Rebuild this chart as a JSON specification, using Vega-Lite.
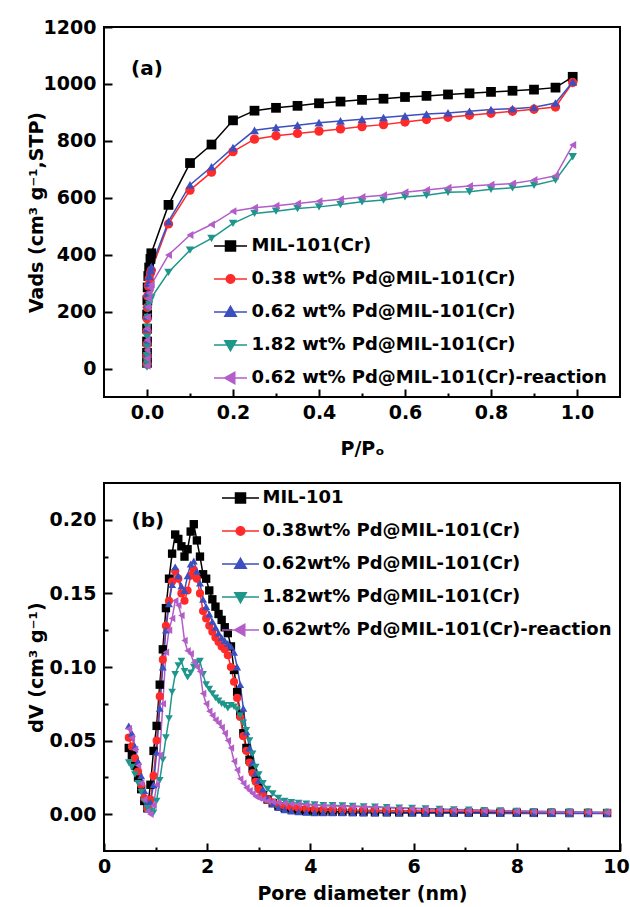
{
  "$schema": "https://vega.github.io/schema/vega-lite/v6.json",
  "padding": {"left": 26, "top": 17, "right": 0, "bottom": 0},
  "background": "white",
  "config": {
    "font": "DejaVu Sans",
    "view": {"stroke": "black", "strokeWidth": 2},
    "axis": {"domain": false, "grid": false, "labelFont": "DejaVu Sans", "labelFontWeight": "bold", "labelFontSize": 19, "labelColor": "black", "titleFont": "DejaVu Sans", "titleFontWeight": "bold", "titleFontSize": 19, "titleColor": "black", "tickColor": "black", "tickWidth": 2, "labelFlush": false, "labelOverlap": false},
    "legend": {"orient": "none", "title": null, "padding": 0, "rowPadding": 15, "symbolSize": 100, "symbolStrokeWidth": 1.5, "labelFont": "DejaVu Sans", "labelFontWeight": "bold", "labelFontSize": 18, "labelColor": "black", "labelLimit": 0, "symbolOpacity": 1}
  },
  "datasets": {
    "iso": [
      {"s":"MIL","p":0.00002,"v":20},{"s":"MIL","p":0.00005,"v":55},{"s":"MIL","p":0.0001,"v":95},{"s":"MIL","p":0.0002,"v":140},{"s":"MIL","p":0.0004,"v":190},{"s":"MIL","p":0.0008,"v":240},{"s":"MIL","p":0.0015,"v":285},{"s":"MIL","p":0.003,"v":325},{"s":"MIL","p":0.005,"v":355},{"s":"MIL","p":0.008,"v":385},{"s":"MIL","p":0.01,"v":405},
      {"s":"MIL","p":0.05,"v":575},{"s":"MIL","p":0.1,"v":722},{"s":"MIL","p":0.15,"v":787},{"s":"MIL","p":0.2,"v":872},{"s":"MIL","p":0.25,"v":906},{"s":"MIL","p":0.3,"v":916},{"s":"MIL","p":0.35,"v":923},{"s":"MIL","p":0.4,"v":932},{"s":"MIL","p":0.45,"v":938},{"s":"MIL","p":0.5,"v":944},{"s":"MIL","p":0.55,"v":948},{"s":"MIL","p":0.6,"v":954},{"s":"MIL","p":0.65,"v":958},{"s":"MIL","p":0.7,"v":963},{"s":"MIL","p":0.75,"v":967},{"s":"MIL","p":0.8,"v":972},{"s":"MIL","p":0.85,"v":976},{"s":"MIL","p":0.9,"v":980},{"s":"MIL","p":0.95,"v":987},{"s":"MIL","p":0.99,"v":1025},
      {"s":"P38","p":0.00002,"v":15},{"s":"P38","p":0.00005,"v":45},{"s":"P38","p":0.0001,"v":85},{"s":"P38","p":0.0002,"v":130},{"s":"P38","p":0.0004,"v":175},{"s":"P38","p":0.0008,"v":215},{"s":"P38","p":0.0015,"v":255},{"s":"P38","p":0.003,"v":290},{"s":"P38","p":0.005,"v":315},{"s":"P38","p":0.008,"v":335},{"s":"P38","p":0.01,"v":345},
      {"s":"P38","p":0.05,"v":508},{"s":"P38","p":0.1,"v":627},{"s":"P38","p":0.15,"v":690},{"s":"P38","p":0.2,"v":762},{"s":"P38","p":0.25,"v":806},{"s":"P38","p":0.3,"v":818},{"s":"P38","p":0.35,"v":826},{"s":"P38","p":0.4,"v":834},{"s":"P38","p":0.45,"v":842},{"s":"P38","p":0.5,"v":850},{"s":"P38","p":0.55,"v":857},{"s":"P38","p":0.6,"v":866},{"s":"P38","p":0.65,"v":875},{"s":"P38","p":0.7,"v":883},{"s":"P38","p":0.75,"v":890},{"s":"P38","p":0.8,"v":897},{"s":"P38","p":0.85,"v":904},{"s":"P38","p":0.9,"v":911},{"s":"P38","p":0.95,"v":919},{"s":"P38","p":0.99,"v":1005},
      {"s":"P62","p":0.00002,"v":20},{"s":"P62","p":0.00005,"v":55},{"s":"P62","p":0.0001,"v":95},{"s":"P62","p":0.0002,"v":140},{"s":"P62","p":0.0004,"v":185},{"s":"P62","p":0.0008,"v":225},{"s":"P62","p":0.0015,"v":265},{"s":"P62","p":0.003,"v":300},{"s":"P62","p":0.005,"v":325},{"s":"P62","p":0.008,"v":345},{"s":"P62","p":0.01,"v":358},
      {"s":"P62","p":0.05,"v":517},{"s":"P62","p":0.1,"v":645},{"s":"P62","p":0.15,"v":709},{"s":"P62","p":0.2,"v":776},{"s":"P62","p":0.25,"v":837},{"s":"P62","p":0.3,"v":847},{"s":"P62","p":0.35,"v":855},{"s":"P62","p":0.4,"v":864},{"s":"P62","p":0.45,"v":870},{"s":"P62","p":0.5,"v":876},{"s":"P62","p":0.55,"v":882},{"s":"P62","p":0.6,"v":888},{"s":"P62","p":0.65,"v":894},{"s":"P62","p":0.7,"v":898},{"s":"P62","p":0.75,"v":904},{"s":"P62","p":0.8,"v":910},{"s":"P62","p":0.85,"v":913},{"s":"P62","p":0.9,"v":918},{"s":"P62","p":0.95,"v":933},{"s":"P62","p":0.99,"v":1007},
      {"s":"P182","p":0.00002,"v":5},{"s":"P182","p":0.00005,"v":20},{"s":"P182","p":0.0001,"v":45},{"s":"P182","p":0.0002,"v":75},{"s":"P182","p":0.0004,"v":110},{"s":"P182","p":0.0008,"v":145},{"s":"P182","p":0.0015,"v":180},{"s":"P182","p":0.003,"v":210},{"s":"P182","p":0.005,"v":225},{"s":"P182","p":0.008,"v":240},{"s":"P182","p":0.01,"v":248},
      {"s":"P182","p":0.05,"v":338},{"s":"P182","p":0.1,"v":416},{"s":"P182","p":0.15,"v":457},{"s":"P182","p":0.2,"v":510},{"s":"P182","p":0.25,"v":545},{"s":"P182","p":0.3,"v":553},{"s":"P182","p":0.35,"v":562},{"s":"P182","p":0.4,"v":568},{"s":"P182","p":0.45,"v":576},{"s":"P182","p":0.5,"v":586},{"s":"P182","p":0.55,"v":592},{"s":"P182","p":0.6,"v":603},{"s":"P182","p":0.65,"v":609},{"s":"P182","p":0.7,"v":619},{"s":"P182","p":0.75,"v":621},{"s":"P182","p":0.8,"v":630},{"s":"P182","p":0.85,"v":635},{"s":"P182","p":0.9,"v":644},{"s":"P182","p":0.95,"v":662},{"s":"P182","p":0.99,"v":744},
      {"s":"RXN","p":0.00002,"v":10},{"s":"RXN","p":0.00005,"v":35},{"s":"RXN","p":0.0001,"v":65},{"s":"RXN","p":0.0002,"v":100},{"s":"RXN","p":0.0004,"v":140},{"s":"RXN","p":0.0008,"v":180},{"s":"RXN","p":0.0015,"v":215},{"s":"RXN","p":0.003,"v":245},{"s":"RXN","p":0.005,"v":265},{"s":"RXN","p":0.008,"v":285},{"s":"RXN","p":0.01,"v":295},
      {"s":"RXN","p":0.05,"v":399},{"s":"RXN","p":0.1,"v":469},{"s":"RXN","p":0.15,"v":506},{"s":"RXN","p":0.2,"v":553},{"s":"RXN","p":0.25,"v":565},{"s":"RXN","p":0.3,"v":572},{"s":"RXN","p":0.35,"v":580},{"s":"RXN","p":0.4,"v":588},{"s":"RXN","p":0.45,"v":595},{"s":"RXN","p":0.5,"v":603},{"s":"RXN","p":0.55,"v":609},{"s":"RXN","p":0.6,"v":619},{"s":"RXN","p":0.65,"v":627},{"s":"RXN","p":0.7,"v":635},{"s":"RXN","p":0.75,"v":641},{"s":"RXN","p":0.8,"v":646},{"s":"RXN","p":0.85,"v":650},{"s":"RXN","p":0.9,"v":662},{"s":"RXN","p":0.95,"v":677},{"s":"RXN","p":0.99,"v":785}
    ],
    "psd": [
      {"s":"MIL","d":0.48,"v":0.045},{"s":"MIL","d":0.54,"v":0.040},{"s":"MIL","d":0.60,"v":0.033},{"s":"MIL","d":0.66,"v":0.025},{"s":"MIL","d":0.72,"v":0.017},{"s":"MIL","d":0.78,"v":0.009},{"s":"MIL","d":0.84,"v":0.004},{"s":"MIL","d":0.90,"v":0.020},{"s":"MIL","d":0.96,"v":0.043},{"s":"MIL","d":1.02,"v":0.060},{"s":"MIL","d":1.08,"v":0.088},{"s":"MIL","d":1.14,"v":0.112},{"s":"MIL","d":1.20,"v":0.140},{"s":"MIL","d":1.26,"v":0.160},{"s":"MIL","d":1.32,"v":0.177},{"s":"MIL","d":1.38,"v":0.190},{"s":"MIL","d":1.44,"v":0.187},{"s":"MIL","d":1.50,"v":0.182},{"s":"MIL","d":1.56,"v":0.175},{"s":"MIL","d":1.62,"v":0.180},{"s":"MIL","d":1.68,"v":0.192},{"s":"MIL","d":1.74,"v":0.197},{"s":"MIL","d":1.80,"v":0.186},{"s":"MIL","d":1.86,"v":0.175},{"s":"MIL","d":1.92,"v":0.163},{"s":"MIL","d":1.98,"v":0.160},{"s":"MIL","d":2.04,"v":0.152},{"s":"MIL","d":2.10,"v":0.146},{"s":"MIL","d":2.16,"v":0.141},{"s":"MIL","d":2.22,"v":0.136},{"s":"MIL","d":2.28,"v":0.132},{"s":"MIL","d":2.34,"v":0.127},{"s":"MIL","d":2.40,"v":0.123},{"s":"MIL","d":2.46,"v":0.114},{"s":"MIL","d":2.52,"v":0.098},{"s":"MIL","d":2.58,"v":0.083},{"s":"MIL","d":2.64,"v":0.068},{"s":"MIL","d":2.70,"v":0.055},{"s":"MIL","d":2.76,"v":0.045},{"s":"MIL","d":2.82,"v":0.037},{"s":"MIL","d":2.88,"v":0.031},{"s":"MIL","d":2.94,"v":0.025},{"s":"MIL","d":3.00,"v":0.019},
      {"s":"MIL","d":3.08,"v":0.013},{"s":"MIL","d":3.17,"v":0.010},{"s":"MIL","d":3.27,"v":0.0075},{"s":"MIL","d":3.38,"v":0.0055},{"s":"MIL","d":3.50,"v":0.0042},{"s":"MIL","d":3.63,"v":0.0033},{"s":"MIL","d":3.77,"v":0.0027},{"s":"MIL","d":3.92,"v":0.0022},
      {"s":"MIL","d":4.08,"v":0.0018},{"s":"MIL","d":4.25,"v":0.0017},{"s":"MIL","d":4.43,"v":0.0016},{"s":"MIL","d":4.62,"v":0.0016},{"s":"MIL","d":4.82,"v":0.0015},{"s":"MIL","d":5.03,"v":0.0015},{"s":"MIL","d":5.25,"v":0.0014},{"s":"MIL","d":5.48,"v":0.0014},{"s":"MIL","d":5.72,"v":0.0013},{"s":"MIL","d":5.97,"v":0.0013},{"s":"MIL","d":6.23,"v":0.0012},{"s":"MIL","d":6.50,"v":0.0012},{"s":"MIL","d":6.78,"v":0.0011},{"s":"MIL","d":7.07,"v":0.0011},{"s":"MIL","d":7.37,"v":0.0010},{"s":"MIL","d":7.68,"v":0.0010},{"s":"MIL","d":8.00,"v":0.0010},{"s":"MIL","d":8.33,"v":0.0009},{"s":"MIL","d":8.67,"v":0.0009},{"s":"MIL","d":9.02,"v":0.0008},{"s":"MIL","d":9.38,"v":0.0008},{"s":"MIL","d":9.75,"v":0.0008},
      {"s":"P38","d":0.48,"v":0.052},{"s":"P38","d":0.54,"v":0.046},{"s":"P38","d":0.60,"v":0.038},{"s":"P38","d":0.66,"v":0.029},{"s":"P38","d":0.72,"v":0.020},{"s":"P38","d":0.78,"v":0.011},{"s":"P38","d":0.84,"v":0.004},{"s":"P38","d":0.90,"v":0.010},{"s":"P38","d":0.96,"v":0.026},{"s":"P38","d":1.02,"v":0.050},{"s":"P38","d":1.08,"v":0.080},{"s":"P38","d":1.14,"v":0.105},{"s":"P38","d":1.20,"v":0.128},{"s":"P38","d":1.26,"v":0.145},{"s":"P38","d":1.32,"v":0.158},{"s":"P38","d":1.38,"v":0.165},{"s":"P38","d":1.44,"v":0.160},{"s":"P38","d":1.50,"v":0.150},{"s":"P38","d":1.56,"v":0.145},{"s":"P38","d":1.62,"v":0.152},{"s":"P38","d":1.68,"v":0.162},{"s":"P38","d":1.74,"v":0.166},{"s":"P38","d":1.80,"v":0.160},{"s":"P38","d":1.86,"v":0.150},{"s":"P38","d":1.92,"v":0.138},{"s":"P38","d":1.98,"v":0.133},{"s":"P38","d":2.04,"v":0.128},{"s":"P38","d":2.10,"v":0.124},{"s":"P38","d":2.16,"v":0.120},{"s":"P38","d":2.22,"v":0.117},{"s":"P38","d":2.28,"v":0.114},{"s":"P38","d":2.34,"v":0.112},{"s":"P38","d":2.40,"v":0.108},{"s":"P38","d":2.46,"v":0.100},{"s":"P38","d":2.52,"v":0.090},{"s":"P38","d":2.58,"v":0.079},{"s":"P38","d":2.64,"v":0.066},{"s":"P38","d":2.70,"v":0.053},{"s":"P38","d":2.76,"v":0.043},{"s":"P38","d":2.82,"v":0.035},{"s":"P38","d":2.88,"v":0.028},{"s":"P38","d":2.94,"v":0.022},{"s":"P38","d":3.00,"v":0.017},
      {"s":"P38","d":3.08,"v":0.013},{"s":"P38","d":3.17,"v":0.010},{"s":"P38","d":3.27,"v":0.008},{"s":"P38","d":3.38,"v":0.0065},{"s":"P38","d":3.50,"v":0.0055},{"s":"P38","d":3.63,"v":0.0047},{"s":"P38","d":3.77,"v":0.0042},{"s":"P38","d":3.92,"v":0.0038},
      {"s":"P38","d":4.08,"v":0.0034},{"s":"P38","d":4.25,"v":0.0032},{"s":"P38","d":4.43,"v":0.0030},{"s":"P38","d":4.62,"v":0.0029},{"s":"P38","d":4.82,"v":0.0028},{"s":"P38","d":5.03,"v":0.0027},{"s":"P38","d":5.25,"v":0.0026},{"s":"P38","d":5.48,"v":0.0025},{"s":"P38","d":5.72,"v":0.0024},{"s":"P38","d":5.97,"v":0.0023},{"s":"P38","d":6.23,"v":0.0022},{"s":"P38","d":6.50,"v":0.0021},{"s":"P38","d":6.78,"v":0.0020},{"s":"P38","d":7.07,"v":0.0019},{"s":"P38","d":7.37,"v":0.0018},{"s":"P38","d":7.68,"v":0.0017},{"s":"P38","d":8.00,"v":0.0016},{"s":"P38","d":8.33,"v":0.0015},{"s":"P38","d":8.67,"v":0.0014},{"s":"P38","d":9.02,"v":0.0013},{"s":"P38","d":9.38,"v":0.0012},{"s":"P38","d":9.75,"v":0.0011},
      {"s":"P62","d":0.48,"v":0.060},{"s":"P62","d":0.54,"v":0.055},{"s":"P62","d":0.60,"v":0.046},{"s":"P62","d":0.66,"v":0.036},{"s":"P62","d":0.72,"v":0.026},{"s":"P62","d":0.78,"v":0.016},{"s":"P62","d":0.84,"v":0.008},{"s":"P62","d":0.90,"v":0.008},{"s":"P62","d":0.96,"v":0.020},{"s":"P62","d":1.02,"v":0.042},{"s":"P62","d":1.08,"v":0.072},{"s":"P62","d":1.14,"v":0.100},{"s":"P62","d":1.20,"v":0.125},{"s":"P62","d":1.26,"v":0.143},{"s":"P62","d":1.32,"v":0.156},{"s":"P62","d":1.38,"v":0.168},{"s":"P62","d":1.44,"v":0.162},{"s":"P62","d":1.50,"v":0.155},{"s":"P62","d":1.56,"v":0.152},{"s":"P62","d":1.62,"v":0.162},{"s":"P62","d":1.68,"v":0.170},{"s":"P62","d":1.74,"v":0.172},{"s":"P62","d":1.80,"v":0.165},{"s":"P62","d":1.86,"v":0.157},{"s":"P62","d":1.92,"v":0.146},{"s":"P62","d":1.98,"v":0.141},{"s":"P62","d":2.04,"v":0.136},{"s":"P62","d":2.10,"v":0.131},{"s":"P62","d":2.16,"v":0.127},{"s":"P62","d":2.22,"v":0.123},{"s":"P62","d":2.28,"v":0.120},{"s":"P62","d":2.34,"v":0.118},{"s":"P62","d":2.40,"v":0.116},{"s":"P62","d":2.46,"v":0.114},{"s":"P62","d":2.52,"v":0.110},{"s":"P62","d":2.58,"v":0.100},{"s":"P62","d":2.64,"v":0.088},{"s":"P62","d":2.70,"v":0.072},{"s":"P62","d":2.76,"v":0.056},{"s":"P62","d":2.82,"v":0.045},{"s":"P62","d":2.88,"v":0.035},{"s":"P62","d":2.94,"v":0.028},{"s":"P62","d":3.00,"v":0.023},
      {"s":"P62","d":3.08,"v":0.017},{"s":"P62","d":3.17,"v":0.011},{"s":"P62","d":3.27,"v":0.007},{"s":"P62","d":3.38,"v":0.0045},{"s":"P62","d":3.50,"v":0.003},{"s":"P62","d":3.63,"v":0.0022},{"s":"P62","d":3.77,"v":0.0016},{"s":"P62","d":3.92,"v":0.0012},
      {"s":"P62","d":4.08,"v":0.0010},{"s":"P62","d":4.25,"v":0.0010},{"s":"P62","d":4.43,"v":0.0009},{"s":"P62","d":4.62,"v":0.0009},{"s":"P62","d":4.82,"v":0.0009},{"s":"P62","d":5.03,"v":0.0008},{"s":"P62","d":5.25,"v":0.0008},{"s":"P62","d":5.48,"v":0.0008},{"s":"P62","d":5.72,"v":0.0007},{"s":"P62","d":5.97,"v":0.0007},{"s":"P62","d":6.23,"v":0.0007},{"s":"P62","d":6.50,"v":0.0006},{"s":"P62","d":6.78,"v":0.0006},{"s":"P62","d":7.07,"v":0.0006},{"s":"P62","d":7.37,"v":0.0006},{"s":"P62","d":7.68,"v":0.0005},{"s":"P62","d":8.00,"v":0.0005},{"s":"P62","d":8.33,"v":0.0005},{"s":"P62","d":8.67,"v":0.0005},{"s":"P62","d":9.02,"v":0.0004},{"s":"P62","d":9.38,"v":0.0004},{"s":"P62","d":9.75,"v":0.0004},
      {"s":"P182","d":0.48,"v":0.035},{"s":"P182","d":0.54,"v":0.032},{"s":"P182","d":0.60,"v":0.027},{"s":"P182","d":0.66,"v":0.021},{"s":"P182","d":0.72,"v":0.015},{"s":"P182","d":0.78,"v":0.009},{"s":"P182","d":0.84,"v":0.004},{"s":"P182","d":0.90,"v":0.002},{"s":"P182","d":0.96,"v":0.001},{"s":"P182","d":1.02,"v":0.009},{"s":"P182","d":1.08,"v":0.023},{"s":"P182","d":1.14,"v":0.037},{"s":"P182","d":1.20,"v":0.052},{"s":"P182","d":1.26,"v":0.065},{"s":"P182","d":1.32,"v":0.083},{"s":"P182","d":1.38,"v":0.095},{"s":"P182","d":1.44,"v":0.101},{"s":"P182","d":1.50,"v":0.104},{"s":"P182","d":1.56,"v":0.097},{"s":"P182","d":1.62,"v":0.093},{"s":"P182","d":1.68,"v":0.096},{"s":"P182","d":1.74,"v":0.100},{"s":"P182","d":1.80,"v":0.103},{"s":"P182","d":1.86,"v":0.104},{"s":"P182","d":1.92,"v":0.095},{"s":"P182","d":1.98,"v":0.088},{"s":"P182","d":2.04,"v":0.085},{"s":"P182","d":2.10,"v":0.082},{"s":"P182","d":2.16,"v":0.079},{"s":"P182","d":2.22,"v":0.077},{"s":"P182","d":2.28,"v":0.075},{"s":"P182","d":2.34,"v":0.074},{"s":"P182","d":2.40,"v":0.072},{"s":"P182","d":2.46,"v":0.074},{"s":"P182","d":2.52,"v":0.073},{"s":"P182","d":2.58,"v":0.071},{"s":"P182","d":2.64,"v":0.067},{"s":"P182","d":2.70,"v":0.062},{"s":"P182","d":2.76,"v":0.057},{"s":"P182","d":2.82,"v":0.050},{"s":"P182","d":2.88,"v":0.041},{"s":"P182","d":2.94,"v":0.032},{"s":"P182","d":3.00,"v":0.027},
      {"s":"P182","d":3.08,"v":0.021},{"s":"P182","d":3.17,"v":0.017},{"s":"P182","d":3.27,"v":0.014},{"s":"P182","d":3.38,"v":0.011},{"s":"P182","d":3.50,"v":0.009},{"s":"P182","d":3.63,"v":0.008},{"s":"P182","d":3.77,"v":0.0075},{"s":"P182","d":3.92,"v":0.007},
      {"s":"P182","d":4.08,"v":0.0065},{"s":"P182","d":4.25,"v":0.0060},{"s":"P182","d":4.43,"v":0.0060},{"s":"P182","d":4.62,"v":0.0058},{"s":"P182","d":4.82,"v":0.0055},{"s":"P182","d":5.03,"v":0.0052},{"s":"P182","d":5.25,"v":0.0050},{"s":"P182","d":5.48,"v":0.0047},{"s":"P182","d":5.72,"v":0.0044},{"s":"P182","d":5.97,"v":0.0041},{"s":"P182","d":6.23,"v":0.0038},{"s":"P182","d":6.50,"v":0.0035},{"s":"P182","d":6.78,"v":0.0032},{"s":"P182","d":7.07,"v":0.0030},{"s":"P182","d":7.37,"v":0.0027},{"s":"P182","d":7.68,"v":0.0024},{"s":"P182","d":8.00,"v":0.0022},{"s":"P182","d":8.33,"v":0.0020},{"s":"P182","d":8.67,"v":0.0018},{"s":"P182","d":9.02,"v":0.0016},{"s":"P182","d":9.38,"v":0.0014},{"s":"P182","d":9.75,"v":0.0012},
      {"s":"RXN","d":0.48,"v":0.058},{"s":"RXN","d":0.54,"v":0.052},{"s":"RXN","d":0.60,"v":0.044},{"s":"RXN","d":0.66,"v":0.033},{"s":"RXN","d":0.72,"v":0.021},{"s":"RXN","d":0.78,"v":0.010},{"s":"RXN","d":0.84,"v":0.002},{"s":"RXN","d":0.90,"v":0.000},{"s":"RXN","d":0.96,"v":0.006},{"s":"RXN","d":1.02,"v":0.020},{"s":"RXN","d":1.08,"v":0.040},{"s":"RXN","d":1.14,"v":0.075},{"s":"RXN","d":1.20,"v":0.110},{"s":"RXN","d":1.26,"v":0.125},{"s":"RXN","d":1.32,"v":0.133},{"s":"RXN","d":1.38,"v":0.145},{"s":"RXN","d":1.44,"v":0.142},{"s":"RXN","d":1.50,"v":0.135},{"s":"RXN","d":1.56,"v":0.118},{"s":"RXN","d":1.62,"v":0.111},{"s":"RXN","d":1.68,"v":0.109},{"s":"RXN","d":1.74,"v":0.103},{"s":"RXN","d":1.80,"v":0.100},{"s":"RXN","d":1.86,"v":0.097},{"s":"RXN","d":1.92,"v":0.082},{"s":"RXN","d":1.98,"v":0.075},{"s":"RXN","d":2.04,"v":0.070},{"s":"RXN","d":2.10,"v":0.067},{"s":"RXN","d":2.16,"v":0.064},{"s":"RXN","d":2.22,"v":0.062},{"s":"RXN","d":2.28,"v":0.059},{"s":"RXN","d":2.34,"v":0.055},{"s":"RXN","d":2.40,"v":0.050},{"s":"RXN","d":2.46,"v":0.045},{"s":"RXN","d":2.52,"v":0.036},{"s":"RXN","d":2.58,"v":0.030},{"s":"RXN","d":2.64,"v":0.024},{"s":"RXN","d":2.70,"v":0.021},{"s":"RXN","d":2.76,"v":0.018},{"s":"RXN","d":2.82,"v":0.016},{"s":"RXN","d":2.88,"v":0.014},{"s":"RXN","d":2.94,"v":0.012},{"s":"RXN","d":3.00,"v":0.011},
      {"s":"RXN","d":3.08,"v":0.010},{"s":"RXN","d":3.17,"v":0.009},{"s":"RXN","d":3.27,"v":0.0085},{"s":"RXN","d":3.38,"v":0.008},{"s":"RXN","d":3.50,"v":0.0075},{"s":"RXN","d":3.63,"v":0.007},{"s":"RXN","d":3.77,"v":0.0068},{"s":"RXN","d":3.92,"v":0.0065},
      {"s":"RXN","d":4.08,"v":0.0060},{"s":"RXN","d":4.25,"v":0.0058},{"s":"RXN","d":4.43,"v":0.0056},{"s":"RXN","d":4.62,"v":0.0054},{"s":"RXN","d":4.82,"v":0.0052},{"s":"RXN","d":5.03,"v":0.0050},{"s":"RXN","d":5.25,"v":0.0047},{"s":"RXN","d":5.48,"v":0.0044},{"s":"RXN","d":5.72,"v":0.0041},{"s":"RXN","d":5.97,"v":0.0038},{"s":"RXN","d":6.23,"v":0.0035},{"s":"RXN","d":6.50,"v":0.0032},{"s":"RXN","d":6.78,"v":0.0030},{"s":"RXN","d":7.07,"v":0.0027},{"s":"RXN","d":7.37,"v":0.0025},{"s":"RXN","d":7.68,"v":0.0023},{"s":"RXN","d":8.00,"v":0.0021},{"s":"RXN","d":8.33,"v":0.0019},{"s":"RXN","d":8.67,"v":0.0017},{"s":"RXN","d":9.02,"v":0.0015},{"s":"RXN","d":9.38,"v":0.0013},{"s":"RXN","d":9.75,"v":0.0011}
    ]
  },
  "bounds": "flush",
  "spacing": 86,
  "resolve": {"scale": {"color": "independent", "shape": "independent", "size": "independent", "fill": "independent", "stroke": "independent"}, "legend": {"color": "independent", "shape": "independent", "size": "independent", "fill": "independent", "stroke": "independent"}},
  "vconcat": [
    {
      "width": 516,
      "height": 370,
      "resolve": {"scale": {"color": "independent", "shape": "independent", "size": "independent", "fill": "independent", "stroke": "independent"}, "legend": {"color": "independent", "shape": "independent", "size": "independent", "fill": "independent", "stroke": "independent"}},
      "layer": [
        {
          "data": {"name": "iso"},
          "mark": {"type": "line", "strokeWidth": 1.5},
          "encoding": {
            "x": {"field": "p", "type": "quantitative", "scale": {"domain": [-0.1, 1.1], "nice": false, "zero": false},
              "axis": {"values": [0, 0.1, 0.2, 0.3, 0.4, 0.5, 0.6, 0.7, 0.8, 0.9, 1.0], "labelExpr": "round(datum.value*10) % 2 == 0 ? format(datum.value, '.1f') : ''", "tickSize": {"condition": {"test": "round(datum.value*10) % 2 == 0", "value": -8}, "value": -4}, "labelPadding": 14, "title": "P/Pₒ", "titleY": 57, "titleBaseline": "alphabetic"}},
            "y": {"field": "v", "type": "quantitative", "scale": {"domain": [-100, 1200], "nice": false, "zero": false},
              "axis": {"values": [0, 100, 200, 300, 400, 500, 600, 700, 800, 900, 1000, 1100, 1200], "format": "d", "labelExpr": "datum.value % 200 == 0 ? datum.label : ''", "tickSize": {"condition": {"test": "datum.value % 200 == 0", "value": -8}, "value": -4}, "labelPadding": 16, "title": "Vads (cm³ g⁻¹,STP)", "titleX": -68, "titleBaseline": "middle"}},
            "color": {"field": "s", "type": "nominal", "scale": {"domain": ["MIL", "P38", "P62", "P182", "RXN"], "range": ["#000000", "#FF2B2B", "#3C4FBF", "#1F968B", "#B35DC8"]}, "legend": null}
          }
        },
        {
          "data": {"name": "iso"},
          "mark": {"type": "point", "filled": true, "opacity": 1},
          "encoding": {
            "x": {"field": "p", "type": "quantitative"},
            "y": {"field": "v", "type": "quantitative"},
            "color": {"field": "s", "type": "nominal", "scale": {"domain": ["MIL", "P38", "P62", "P182", "RXN"], "range": ["#000000", "#FF2B2B", "#3C4FBF", "#1F968B", "#B35DC8"]}, "legend": null},
            "shape": {"field": "s", "type": "nominal", "scale": {"domain": ["MIL", "P38", "P62", "P182", "RXN"], "range": ["square", "circle", "triangle-up", "triangle-down", "triangle-left"]}, "legend": null},
            "size": {"field": "s", "type": "ordinal", "scale": {"domain": ["MIL", "P38", "P62", "P182", "RXN"], "range": [95, 64, 125, 125, 125]}, "legend": null}
          }
        },
        {
          "data": {"name": "iso"},
          "transform": [{"filter": "false"}],
          "mark": {"type": "point", "filled": true, "opacity": 1, "strokeWidth": 1.5},
          "encoding": {
            "fill": {"field": "s", "type": "nominal", "scale": {"domain": ["MIL", "P38", "P62", "P182", "RXN"], "range": ["#000000", "#FF2B2B", "#3C4FBF", "#1F968B", "#B35DC8"]},
              "legend": {"legendX": 112, "legendY": 210, "symbolOffset": 5.5, "labelOffset": 12, "labelExpr": "['MIL-101(Cr)', '0.38 wt% Pd@MIL-101(Cr)', '0.62 wt% Pd@MIL-101(Cr)', '1.82 wt% Pd@MIL-101(Cr)', '0.62 wt% Pd@MIL-101(Cr)-reaction'][datum.index]"}},
            "stroke": {"field": "s", "type": "nominal", "scale": {"domain": ["MIL", "P38", "P62", "P182", "RXN"], "range": ["#000000", "#FF2B2B", "#3C4FBF", "#1F968B", "#B35DC8"]},
              "legend": {"legendX": 112, "legendY": 210, "symbolOffset": 5.5, "labelOffset": 12, "labelExpr": "['MIL-101(Cr)', '0.38 wt% Pd@MIL-101(Cr)', '0.62 wt% Pd@MIL-101(Cr)', '1.82 wt% Pd@MIL-101(Cr)', '0.62 wt% Pd@MIL-101(Cr)-reaction'][datum.index]"}},
            "shape": {"field": "s", "type": "nominal", "scale": {"domain": ["MIL", "P38", "P62", "P182", "RXN"], "range": ["M-3.3,0H3.3M-1,-1H1V1H-1Z", "M-3.3,0H3.3M-0.85,0A0.85,0.85,0,1,0,0.85,0A0.85,0.85,0,1,0,-0.85,0Z", "M-3.3,0H3.3M0,-1.15L1.15,0.85H-1.15Z", "M-3.3,0H3.3M0,1.15L1.15,-0.85H-1.15Z", "M-3.3,0H3.3M-1.15,0L0.85,-1.15V1.15Z"]},
              "legend": {"legendX": 112, "legendY": 210, "symbolOffset": 5.5, "labelOffset": 12, "labelExpr": "['MIL-101(Cr)', '0.38 wt% Pd@MIL-101(Cr)', '0.62 wt% Pd@MIL-101(Cr)', '1.82 wt% Pd@MIL-101(Cr)', '0.62 wt% Pd@MIL-101(Cr)-reaction'][datum.index]"}}
          }
        },
        {
          "data": {"values": [{}]},
          "mark": {"type": "text", "font": "DejaVu Sans", "fontWeight": "bold", "fontSize": 20, "align": "center", "baseline": "middle", "color": "black"},
          "encoding": {"x": {"datum": 0.0, "type": "quantitative"}, "y": {"datum": 1054, "type": "quantitative"}, "text": {"value": "(a)"}}
        }
      ]
    },
    {
      "width": 516,
      "height": 368,
      "resolve": {"scale": {"color": "independent", "shape": "independent", "size": "independent", "fill": "independent", "stroke": "independent"}, "legend": {"color": "independent", "shape": "independent", "size": "independent", "fill": "independent", "stroke": "independent"}},
      "layer": [
        {
          "data": {"name": "psd"},
          "mark": {"type": "line", "strokeWidth": 1.5},
          "encoding": {
            "x": {"field": "d", "type": "quantitative", "scale": {"domain": [0, 10], "nice": false, "zero": false},
              "axis": {"values": [0, 1, 2, 3, 4, 5, 6, 7, 8, 9, 10], "labelExpr": "datum.value % 2 == 0 ? datum.label : ''", "labelOffset": {"condition": {"test": "datum.value == 10", "value": -4}, "value": 0}, "tickSize": {"condition": {"test": "datum.value % 2 == 0", "value": -8}, "value": -4}, "labelPadding": 14, "title": "Pore diameter (nm)", "titleY": 48, "titleBaseline": "alphabetic"}},
            "y": {"field": "v", "type": "quantitative", "scale": {"domain": [-0.025, 0.225], "nice": false, "zero": false},
              "axis": {"values": [0, 0.025, 0.05, 0.075, 0.1, 0.125, 0.15, 0.175, 0.2], "format": ".2f", "labelExpr": "round(datum.value*1000) % 50 == 0 ? datum.label : ''", "tickSize": {"condition": {"test": "round(datum.value*1000) % 50 == 0", "value": -8}, "value": -4}, "labelPadding": 16, "title": "dV (cm³ g⁻¹)", "titleX": -68, "titleBaseline": "middle"}},
            "color": {"field": "s", "type": "nominal", "scale": {"domain": ["MIL", "P38", "P62", "P182", "RXN"], "range": ["#000000", "#FF2B2B", "#3C4FBF", "#1F968B", "#B35DC8"]}, "legend": null}
          }
        },
        {
          "data": {"name": "psd"},
          "mark": {"type": "point", "filled": true, "opacity": 1},
          "encoding": {
            "x": {"field": "d", "type": "quantitative"},
            "y": {"field": "v", "type": "quantitative"},
            "color": {"field": "s", "type": "nominal", "scale": {"domain": ["MIL", "P38", "P62", "P182", "RXN"], "range": ["#000000", "#FF2B2B", "#3C4FBF", "#1F968B", "#B35DC8"]}, "legend": null},
            "shape": {"field": "s", "type": "nominal", "scale": {"domain": ["MIL", "P38", "P62", "P182", "RXN"], "range": ["square", "circle", "triangle-up", "triangle-down", "triangle-left"]}, "legend": null},
            "size": {"field": "s", "type": "ordinal", "scale": {"domain": ["MIL", "P38", "P62", "P182", "RXN"], "range": [70, 55, 100, 100, 100]}, "legend": null}
          }
        },
        {
          "data": {"name": "psd"},
          "transform": [{"filter": "false"}],
          "mark": {"type": "point", "filled": true, "opacity": 1, "strokeWidth": 1.5},
          "encoding": {
            "fill": {"field": "s", "type": "nominal", "scale": {"domain": ["MIL", "P38", "P62", "P182", "RXN"], "range": ["#000000", "#FF2B2B", "#3C4FBF", "#1F968B", "#B35DC8"]},
              "legend": {"legendX": 117, "legendY": 6, "symbolOffset": 10.5, "labelOffset": 13, "labelExpr": "['MIL-101', '0.38wt% Pd@MIL-101(Cr)', '0.62wt% Pd@MIL-101(Cr)', '1.82wt% Pd@MIL-101(Cr)', '0.62wt% Pd@MIL-101(Cr)-reaction'][datum.index]"}},
            "stroke": {"field": "s", "type": "nominal", "scale": {"domain": ["MIL", "P38", "P62", "P182", "RXN"], "range": ["#000000", "#FF2B2B", "#3C4FBF", "#1F968B", "#B35DC8"]},
              "legend": {"legendX": 117, "legendY": 6, "symbolOffset": 10.5, "labelOffset": 13, "labelExpr": "['MIL-101', '0.38wt% Pd@MIL-101(Cr)', '0.62wt% Pd@MIL-101(Cr)', '1.82wt% Pd@MIL-101(Cr)', '0.62wt% Pd@MIL-101(Cr)-reaction'][datum.index]"}},
            "shape": {"field": "s", "type": "nominal", "scale": {"domain": ["MIL", "P38", "P62", "P182", "RXN"], "range": ["M-3.7,0H3.7M-1,-1H1V1H-1Z", "M-3.7,0H3.7M-0.85,0A0.85,0.85,0,1,0,0.85,0A0.85,0.85,0,1,0,-0.85,0Z", "M-3.7,0H3.7M0,-1.15L1.15,0.85H-1.15Z", "M-3.7,0H3.7M0,1.15L1.15,-0.85H-1.15Z", "M-3.7,0H3.7M-1.15,0L0.85,-1.15V1.15Z"]},
              "legend": {"legendX": 117, "legendY": 6, "symbolOffset": 10.5, "labelOffset": 13, "labelExpr": "['MIL-101', '0.38wt% Pd@MIL-101(Cr)', '0.62wt% Pd@MIL-101(Cr)', '1.82wt% Pd@MIL-101(Cr)', '0.62wt% Pd@MIL-101(Cr)-reaction'][datum.index]"}}
          }
        },
        {
          "data": {"values": [{}]},
          "mark": {"type": "text", "font": "DejaVu Sans", "fontWeight": "bold", "fontSize": 20, "align": "center", "baseline": "middle", "color": "black"},
          "encoding": {"x": {"datum": 0.85, "type": "quantitative"}, "y": {"datum": 0.1995, "type": "quantitative"}, "text": {"value": "(b)"}}
        }
      ]
    }
  ]
}
